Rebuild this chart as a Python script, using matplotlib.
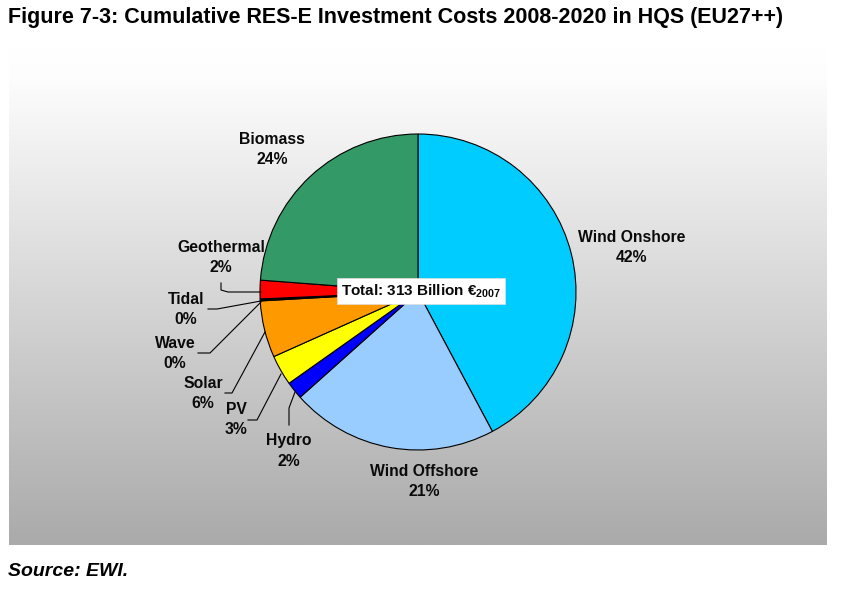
import numpy as np
import matplotlib.pyplot as plt
from matplotlib.colors import LinearSegmentedColormap

plt.rcParams['font.family'] = ['Liberation Sans', 'DejaVu Sans']
plt.rcParams['mathtext.default'] = 'regular'

# shares of cumulative investment costs (%), clockwise from the top
sources = ['Wind Onshore', 'Wind Offshore', 'Hydro', 'PV', 'Solar',
           'Wave', 'Tidal', 'Geothermal', 'Biomass']
shares = [42.2, 21.2, 1.8, 3.1, 5.8, 0.1, 0.1, 1.9, 23.8]
shown_pct = ['42%', '21%', '2%', '3%', '6%', '0%', '0%', '2%', '24%']
colors = ['#00CCFF', '#99CCFF', '#0000FF', '#FFFF00', '#FF9900',
          '#FF9900', '#FF0000', '#FF0000', '#339966']

# label centres in pixel coords (x, y of first line)
label_pos = {
    'Wind Onshore': (632, 238), 'Wind Offshore': (424, 471),
    'Hydro': (289, 441), 'PV': (236, 410), 'Solar': (203, 384),
    'Wave': (175, 344), 'Tidal': (186, 299), 'Geothermal': (221, 248),
    'Biomass': (272, 140),
}
# leader lines for the small slices
leaders = {
    'Geothermal': [(221, 283), (221, 290), (228, 292), (261, 292)],
    'Tidal': [(208, 309), (217, 309), (261, 301)],
    'Wave': [(198, 353), (210, 353), (261, 302)],
    'Solar': [(225, 393), (232, 393), (265, 332)],
    'PV': [(248, 420), (257, 420), (281, 374)],
    'Hydro': [(289, 425), (289, 408), (295, 392)],
}

fig = plt.figure(figsize=(8.44, 5.92), dpi=100)
ax = fig.add_axes([0, 0, 1, 1])

# grey gradient plot area
grad = np.linspace(0, 1, 256).reshape(-1, 1)
bg = LinearSegmentedColormap.from_list(
    'bg', [(0, '#FFFFFF'), (0.06, '#FDFDFD'), (1, '#AAAAAA')])
ax.imshow(grad, cmap=bg, extent=[9, 827, 545, 48], aspect='auto', zorder=0)

ax.pie(shares, colors=colors, startangle=-90, counterclock=True,
       center=(418, 292), radius=158,
       wedgeprops=dict(edgecolor='black', linewidth=0.8), frame=True)
ax.set_xlim(0, 844)
ax.set_ylim(592, 0)
ax.set_aspect('auto')
ax.axis('off')

for name, pct in zip(sources, shown_pct):
    x, y = label_pos[name]
    ax.text(x, y, name, ha='center', va='center', fontsize=11.3,
            fontweight='bold', color='#0A0A0A', zorder=5)
    ax.text(x, y + 20, pct, ha='center', va='center', fontsize=11.3,
            fontweight='bold', color='#0A0A0A', zorder=5)

for name, pts in leaders.items():
    xs, ys = zip(*pts)
    ax.plot(xs, ys, color='black', linewidth=0.8, zorder=4)

ax.text(421, 291, r'Total: 313 Billion €$_{2007}$', ha='center', va='center',
        fontsize=11, fontweight='bold', color='#0A0A0A', zorder=6,
        bbox=dict(boxstyle='square,pad=0.25', facecolor='white',
                  edgecolor='#DDDDDD', linewidth=0.5))

fig.text(8 / 844, 1 - 18 / 592,
         'Figure 7-3: Cumulative RES-E Investment Costs 2008-2020 in HQS (EU27++)',
         ha='left', va='center', fontsize=15.5, fontweight='bold')
fig.text(8 / 844, 1 - 572 / 592, 'Source: EWI.', ha='left', va='center',
         fontsize=14, fontweight='bold', style='italic')

fig.savefig('out.png', dpi=100)
